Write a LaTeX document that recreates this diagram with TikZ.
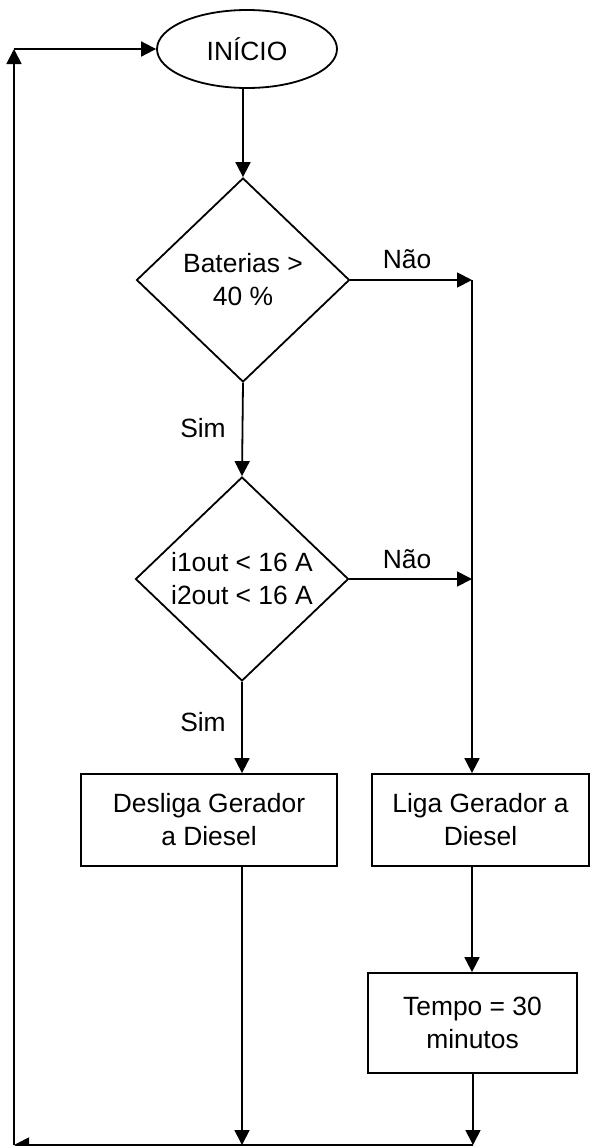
\documentclass[tikz,border=0pt]{standalone}
\usepackage{fontspec}
\setmainfont{Liberation Sans}
\usetikzlibrary{shapes.geometric,arrows.meta}
\begin{document}
\begin{tikzpicture}[x=0.5pt,y=-0.5pt,
  every node/.style={font=\fontsize{13.2pt}{16.5pt}\selectfont, align=center},
  lw/.style={line width=0.9pt},
  conn/.style={lw, -{Triangle[length=7.5pt,width=7.5pt]}},
  plain/.style={lw},
  box/.style={draw, lw, rectangle, inner sep=0pt},
  dec/.style={draw, lw, diamond, inner sep=0pt, minimum width=106.5pt, minimum height=102pt},
  lbl/.style={inner sep=0pt}]
\useasboundingbox (0,0) rectangle (591,1146);

% nodes
\node[draw, lw, ellipse, minimum width=90pt, minimum height=39pt, inner sep=0pt] (start) at (247,49) {INÍCIO};
\node[dec] (d1) at (243,280) {Baterias >\\40 \%};
\node[dec] (d2) at (242,579) {i1out < 16 A\\i2out < 16 A};
\node[box, minimum width=128pt, minimum height=46pt] (desl) at (209,820) {Desliga Gerador\\a Diesel};
\node[box, minimum width=108.5pt, minimum height=46pt] (liga) at (480.5,820) {Liga Gerador a\\Diesel};
\node[box, minimum width=104.5pt, minimum height=50pt] (tempo) at (472.5,1023) {Tempo = 30\\minutos};

% labels
\node[lbl] (nao1) at (407,259) {Não};
\node[lbl] (nao2) at (407,559) {Não};
\node[lbl] (sim1) at (203,428) {Sim};
\node[lbl] (sim2) at (203,722) {Sim};

% junction coordinates
\coordinate (r1) at (472,280);
\coordinate (r2) at (472,579);
\coordinate (bl) at (14,1145);
\coordinate (bm) at (242,1145);
\coordinate (br) at (473,1145);
\coordinate (tl) at (bl |- start.west);

% connectors
\draw[conn] (d1.north |- start.south) -- (d1.north);
\draw[conn] (d1.south) -- (d2.north);
\draw[conn] (d1.east) -- (r1);
\draw[conn] (d2.east) -- (r2);
\draw[conn] (r1) -- (r1 |- liga.north);
\draw[conn] (d2.south) -- (d2.south |- desl.north);
\draw[conn] (bm |- desl.south) -- (bm);
\draw[conn] (r1 |- liga.south) -- (r1 |- tempo.north);
\draw[conn] (br |- tempo.south) -- (br);
\draw[conn] (br) -- (bl);
\draw[conn] (bl) -- (tl);
\draw[conn] (tl) -- (start.west);
\end{tikzpicture}
\end{document}
